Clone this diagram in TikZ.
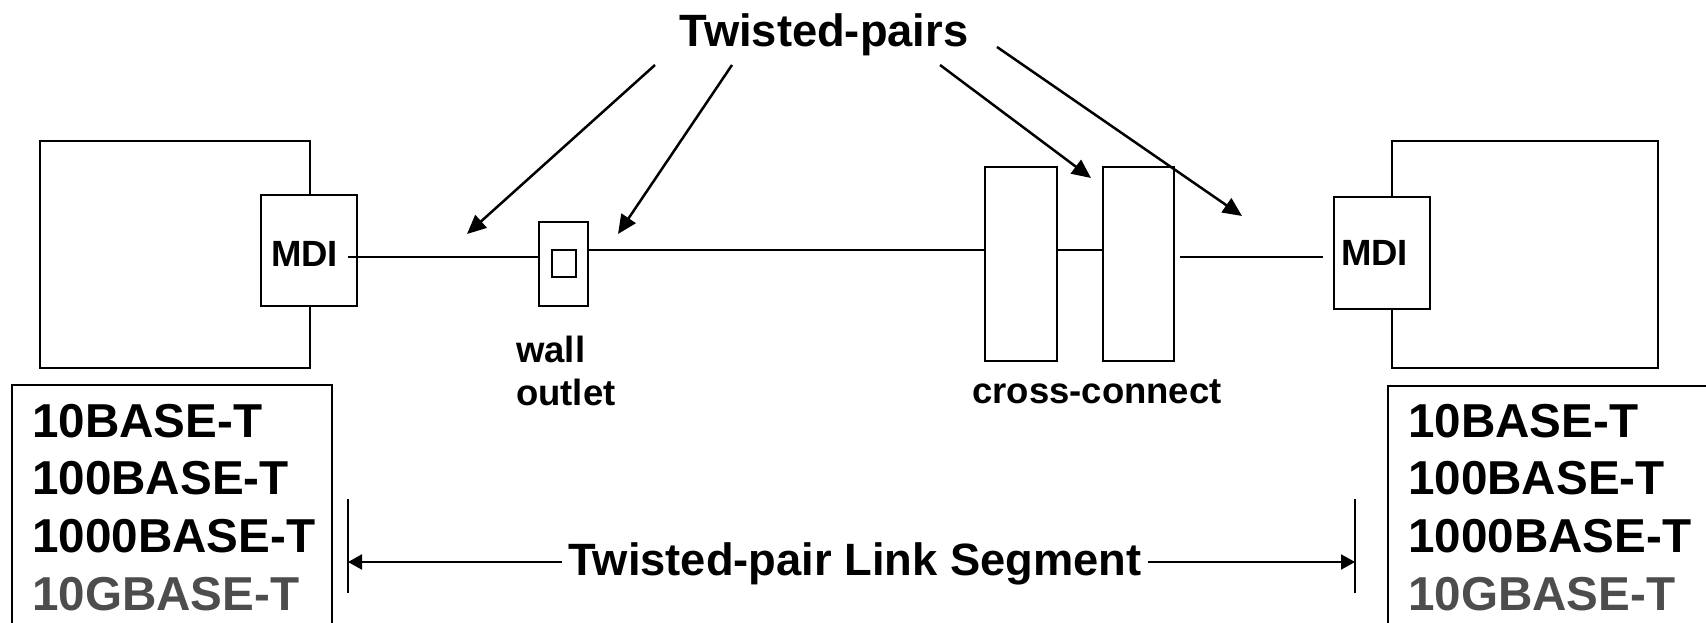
\documentclass[tikz,border=0pt]{standalone}
\usepackage{fontspec}
\setmainfont{Liberation Sans}
\usetikzlibrary{arrows.meta}
\definecolor{tenGgrey}{RGB}{77,77,77}
\newcommand\fbig{\fontsize{45.3}{50}\selectfont\bfseries}
\newcommand\flist{\fontsize{47.6}{50}\selectfont\bfseries}
\newcommand\fmid{\fontsize{36.5}{40}\selectfont\bfseries}

\begin{document}
\begin{tikzpicture}[x=1pt,y=-1pt,
  frame/.style={draw, line width=2.7pt, inner sep=0pt},
  listbox/.style={draw, line width=2.2pt, inner sep=0pt},
  cable/.style={line width=2pt},
  pointer/.style={line width=2.5pt, -{Triangle[length=19pt,width=17pt]}},
  dimline/.style={line width=2pt, -{Triangle[length=14pt,width=15pt]}},
  tickmark/.style={line width=2.5pt},
  txt/.style={inner sep=0pt, font=\fbig},
  listtxt/.style={inner sep=0pt, font=\flist, anchor=base west},
  small/.style={inner sep=0pt, font=\fmid}]

\clip (0,0) rectangle (1706,623);

% end stations with their MDI
\node[frame, minimum width=270pt, minimum height=227pt] (devL) at (175,254.5) {};
\node[frame, fill=white, minimum width=96pt, minimum height=111pt] (mdiL) at (309,250.5) {};
\node[small, anchor=base west] (mdiLtxt) at (271,266) {MDI};

\node[frame, minimum width=266pt, minimum height=227pt] (devR) at (1525,254.5) {};
\node[frame, fill=white, minimum width=96pt, minimum height=112pt] (mdiR) at (1382,253) {};
\node[small, anchor=base west] (mdiRtxt) at (1341,265) {MDI};

% wall outlet
\node[frame, minimum width=49pt, minimum height=84pt] (outlet) at (563.5,264) {};
\node[frame, line width=2.4pt, minimum width=24pt, minimum height=27pt] (jack) at (564,263.5) {};
\node[small, anchor=base west] (wallTxt) at (516,362) {wall};
\node[small, anchor=base west] (outletTxt) at (516,405) {outlet};

% cross-connect panels
\node[frame, minimum width=72pt, minimum height=194pt] (cc1) at (1021,264) {};
\node[frame, minimum width=71pt, minimum height=194pt] (cc2) at (1138.5,264) {};
\node[small, anchor=base] (ccTxt) at (1097,403) {cross-connect};

% cabling
\draw[cable] ([xshift=-10pt,yshift=-6.5pt]mdiL.east) -- ([yshift=7pt]outlet.west);
\draw[cable] ([yshift=14pt]outlet.east) -- ([yshift=14pt]cc1.west);
\draw[cable] ([yshift=14pt]cc1.east) -- ([yshift=14pt]cc2.west);
\draw[cable] ([xshift=5pt,yshift=7pt]cc2.east) -- ([xshift=-10pt,yshift=-4pt]mdiR.west);

% twisted-pair callouts
\node[txt, anchor=base] (tpTitle) at (824,47) {Twisted-pairs};
\coordinate (s1) at (655,65);  \coordinate (e1) at (467,234);
\coordinate (s2) at (732,65);  \coordinate (e2) at (618,234);
\coordinate (s3) at (940,65);  \coordinate (e3) at (1091,178);
\coordinate (s4) at (997,47);  \coordinate (e4) at (1242,216);
\draw[pointer] (s1) -- (e1);
\draw[pointer] (s2) -- (e2);
\draw[pointer] (s3) -- (e3);
\draw[pointer] (s4) -- (e4);

% supported PHY lists
\node[listbox, minimum width=320pt, minimum height=255pt] (stdL) at (172,512.5) {};
\node[listtxt] (l1) at (32,437) {10BASE-T};
\node[listtxt] (l2) at (32,494.5) {100BASE-T};
\node[listtxt] (l3) at (32,552) {1000BASE-T};
\node[listtxt, text=tenGgrey] (l4) at (32,610) {10GBASE-T};

\node[listbox, minimum width=332pt, minimum height=254pt] (stdR) at (1554,513) {};
\node[listtxt] (r1) at (1408,437) {10BASE-T};
\node[listtxt] (r2) at (1408,494.5) {100BASE-T};
\node[listtxt] (r3) at (1408,552) {1000BASE-T};
\node[listtxt, text=tenGgrey] (r4) at (1408,610) {10GBASE-T};

% link segment dimension
\coordinate (tLa) at (348,499); \coordinate (tLb) at (348,593);
\coordinate (tRa) at (1355,499); \coordinate (tRb) at (1355,593);
\coordinate (dimL) at (348,562); \coordinate (dimR) at (1355,562);
\draw[tickmark] (tLa) -- (tLb);
\draw[tickmark] (tRa) -- (tRb);
\node[txt, anchor=base, inner xsep=6pt] (segTxt) at (855,575) {Twisted-pair Link Segment};
\draw[dimline] (segTxt.west |- dimL) -- (dimL);
\draw[dimline] (segTxt.east |- dimR) -- (dimR);
\end{tikzpicture}
\end{document}
